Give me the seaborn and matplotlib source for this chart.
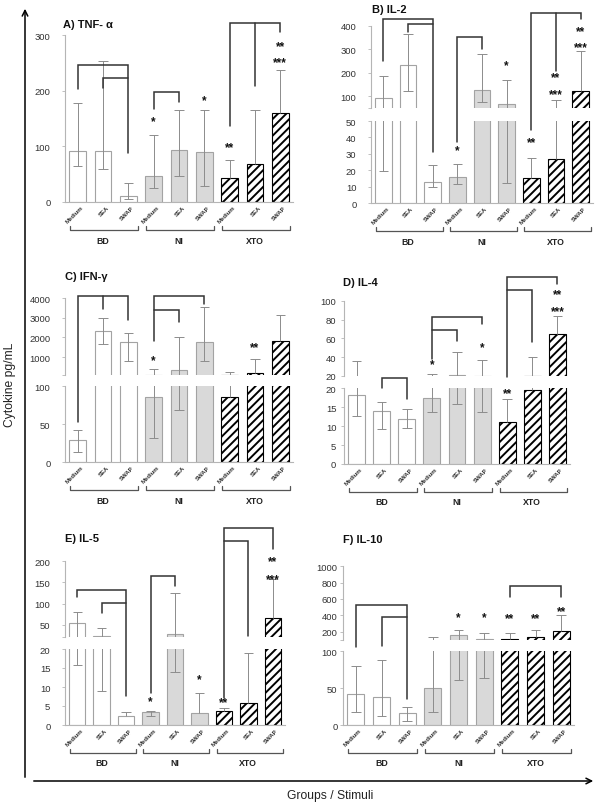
import numpy as np
import pandas as pd
import matplotlib.pyplot as plt
import matplotlib.transforms as mtransforms
from matplotlib.lines import Line2D
from matplotlib.patches import FancyArrowPatch
import seaborn as sns

sns.set_style("white")
plt.rcParams['font.family'] = ['Liberation Sans', 'DejaVu Sans']
plt.rcParams['hatch.linewidth'] = 1.4

W, H = 600, 804

groups = ['BD'] * 3 + ['NI'] * 3 + ['XTO'] * 3
stimuli = ['Medium', 'SEA', 'SWAP'] * 3
group_names = ['BD', 'NI', 'XTO']

# bar height, lower whisker, upper whisker
tnf_val = [92, 91, 10, 46, 94, 89, 43, 69, 160]
tnf_lo = [65, 59, 5, 25, 46, 28, 43, 69, 160]
tnf_hi = [177, 254, 35, 120, 165, 165, 76, 165, 237]

il2_val = [93, 233, 13, 16, 128, 69, 15.2, 26.7, 122]
il2_lo = [19.4, 121, 9.7, 11.5, 75, 12.2, 15.2, 26.7, 122]
il2_hi = [187, 364, 23, 23.7, 280, 170, 27.7, 82, 294]

ifn_val = [29, 2322, 1746, 85.5, 322, 1763, 85.5, 203, 1797]
ifn_lo = [13, 1661, 797, 31.6, 69, 797, 85.5, 203, 1797]
ifn_hi = [42, 2983, 2220, 373, 2050, 3576, 237, 881, 3169]

il4_val = [18.2, 13.9, 12.0, 17.5, 21.4, 20.4, 11.0, 19.5, 64.6]
il4_lo = [12.6, 9.2, 9.6, 13.8, 15.8, 13.8, 11.0, 19.5, 64.6]
il4_hi = [36.3, 16.3, 14.6, 22.4, 45.8, 37.3, 17.3, 39.8, 84]

il5_val = [54.7, 24, 2.3, 3.3, 28, 3.1, 3.6, 5.8, 65]
il5_lo = [15.9, 8.9, 2.3, 2.4, 14, 3.1, 3.6, 5.8, 65]
il5_hi = [79, 43, 3.5, 3.8, 124, 8.4, 4.4, 19, 158]

il10_val = [42, 37.5, 16, 50, 159, 106, 110, 131, 212]
il10_lo = [17, 12, 6, 17, 61, 64, 110, 131, 212]
il10_hi = [80, 88, 25, 131, 220, 180, 180, 224, 404]

# significance brackets: (bar index, value[, 'lo' = use lower segment scale])
tnf_brackets = [[(0, 203), (0, 246), (2, 246), (2, 88)],
                [(1, 204), (1, 223), (2, 223)],
                [(3, 167), (3, 197), (4, 197), (4, 179)],
                [(6, 137), (6, 322), (8, 322), (8, 305)],
                [(7, 322), (7, 208)]]
il2_brackets = [[(0, 251), (0, 428), (2, 428), (2, 31)],
                [(1, 372), (1, 407), (2, 407)],
                [(3, 37), (3, 350), (4, 350), (4, 300)],
                [(6, 44.4), (6, 456), (8, 456), (8, 428)],
                [(7, 456), (7, 209)]]
ifn_brackets = [[(0, 52.6), (0, 4132), (2, 4132), (2, 2912)],
                [(1, 4132), (1, 3456)],
                [(3, 1844), (3, 4132), (5, 4132), (5, 3710)],
                [(3, 3420), (4, 3420), (4, 2779)]]
il4_brackets = [[(1, 20.0, 'lo'), (1, 22.6, 'lo'), (2, 22.6, 'lo'), (2, 17.2)],
                [(3, 38), (3, 83), (5, 83), (5, 75.3)],
                [(3, 68.9), (4, 68.9), (4, 57.5)],
                [(6, 22.9, 'lo'), (6, 125.5), (8, 125.5), (8, 117.8)],
                [(6, 111), (7, 111), (7, 55.8)]]
il5_brackets = [[(0, 116), (0, 132), (2, 132), (2, 7.7)],
                [(1, 77.7), (1, 102), (2, 102)],
                [(3, 8.4), (3, 166), (4, 166), (4, 141)],
                [(6, 7), (6, 278), (8, 278), (8, 229)],
                [(6, 249), (7, 249), (7, 24)]]
il10_brackets = [[(0, 106, 'lo'), (0, 530), (2, 530), (2, 35)],
                 [(1, 107, 'lo'), (1, 375), (2, 375)],
                 [(6, 628), (6, 763), (8, 763), (8, 628)]]

tnf_stars = [(3, 149, '*'), (5, 187, '*'), (6, 103, '**'), (8, 284, '**'), (8, 255, '***')]
il2_stars = [(3, 33.8, '*'), (5, 244, '*'), (6, 38.6, '**'), (7, 190, '**'), (7, 120, '***'),
             (8, 389, '**'), (8, 318, '***')]
ifn_stars = [(3, 980, '*'), (7, 1625, '**')]
il4_stars = [(3, 34.9, '*'), (5, 53, '*'), (6, 19.3, '**'), (8, 109.6, '**'), (8, 92, '***')]
il5_stars = [(3, 7, '*'), (5, 12.8, '*'), (6, 6.7, '**'), (8, 205.6, '**'), (8, 164.6, '***')]
il10_stars = [(4, 408, '*'), (5, 408, '*'), (6, 396, '**'), (7, 396, '**'), (8, 486, '**')]

# layout in pixels: x range, segments (top, bottom, vmin, vmax, ticks, labels), lower first
panels = [
    dict(title='A) TNF- α', title_px=(63, 25), x_px=(65, 293), pad=8,
         val=tnf_val, lo=tnf_lo, hi=tnf_hi, brk=None, br=tnf_brackets, st=tnf_stars,
         segs=[(36, 203, 0, 300, [0, 100, 200, 300], ['0', '100', '200', '300'])]),
    dict(title='B) IL-2', title_px=(372, 10), x_px=(371, 593), pad=8,
         val=il2_val, lo=il2_lo, hi=il2_hi, brk=50, br=il2_brackets, st=il2_stars,
         segs=[(122, 204.3, 0, 50, [0, 10, 20, 30, 40, 50], ['0', '10', '20', '30', '40', '50']),
               (26.7, 109, 50, 400, [50, 100, 200, 300, 400], ['', '100', '200', '300', '400'])]),
    dict(title='C) IFN-γ', title_px=(65, 277), x_px=(65, 293), pad=8,
         val=ifn_val, lo=ifn_lo, hi=ifn_hi, brk=100, br=ifn_brackets, st=ifn_stars,
         segs=[(387.3, 463.3, 0, 100, [0, 50, 100], ['0', '50', '100']),
               (299.3, 375.7, 100, 4000, [100, 1000, 2000, 3000, 4000], ['', '1000', '2000', '3000', '4000'])]),
    dict(title='D) IL-4', title_px=(343, 283), x_px=(344, 570), pad=3,
         val=il4_val, lo=il4_lo, hi=il4_hi, brk=20, br=il4_brackets, st=il4_stars,
         segs=[(389.3, 465, 0, 20, [0, 5, 10, 15, 20], ['0', '5', '10', '15', '20']),
               (301.7, 377, 20, 100, [20, 40, 60, 80, 100], ['20', '40', '60', '80', '100'])]),
    dict(title='E) IL-5', title_px=(65, 539), x_px=(65, 285), pad=8,
         val=il5_val, lo=il5_lo, hi=il5_hi, brk=20, br=il5_brackets, st=il5_stars,
         segs=[(650, 726, 0, 20, [0, 5, 10, 15, 20], ['0', '5', '10', '15', '20']),
               (562.3, 638.3, 20, 200, [20, 50, 100, 150, 200], ['', '50', '100', '150', '200'])]),
    dict(title='F) IL-10', title_px=(343, 540), x_px=(343, 574), pad=1.5,
         val=il10_val, lo=il10_lo, hi=il10_hi, brk=100, br=il10_brackets, st=il10_stars,
         segs=[(652.3, 726, 0, 100, [0, 50, 100], ['0', '50', '100']),
               (567.3, 640.7, 100, 1000, [100, 200, 400, 600, 800, 1000],
                ['', '200', '400', '600', '800', '1000'])]),
]

fill = {'BD': 'white', 'NI': '#d9d9d9', 'XTO': 'white'}
ecol = '#8c8c8c'
axis_col = '#b5b5b5'

fig = plt.figure(figsize=(W / 100, H / 100), dpi=100)


def add_px_axes(x0, x1, y0, y1):
    return fig.add_axes([x0 / W, 1 - y1 / H, (x1 - x0) / W, (y1 - y0) / H])


def draw_bars(ax, val, lo, hi):
    df = pd.DataFrame({'cell': [g + ' ' + s for g, s in zip(groups, stimuli)],
                       'value': val, 'group': groups})
    sns.barplot(data=df, x='cell', y='value', hue='group', palette=fill, dodge=False,
                width=0.67, saturation=1, legend=False, errorbar=None,
                edgecolor='#a3a3a3', linewidth=0.8, ax=ax, zorder=2)
    for p in ax.patches:
        k = int(round(p.get_x() + p.get_width() / 2))
        if groups[k] == 'XTO':
            p.set_hatch('////')
            p.set_edgecolor('black')
    val, lo, hi = map(np.asarray, (val, lo, hi))
    x = np.arange(len(val))
    cw = 0.19
    ax.vlines(x, lo, hi, color=ecol, lw=0.7, zorder=4)
    ax.hlines(hi, x - cw, x + cw, color=ecol, lw=0.7, zorder=4)
    m = lo < val
    ax.hlines(lo[m], x[m] - cw, x[m] + cw, color=ecol, lw=0.7, zorder=4)


def style_axes(ax, vmin, vmax, ticks, labels, bottom, pad):
    ax.set_xlim(-0.5, 8.5)
    ax.set_ylim(vmin, vmax)
    ax.set_xticks([])
    ax.set_xlabel('')
    ax.set_ylabel('')
    ax.set_yticks(ticks)
    ax.set_yticklabels(labels)
    ax.spines['top'].set_visible(False)
    ax.spines['right'].set_visible(False)
    ax.spines['bottom'].set_visible(bottom)
    for s in ['left', 'bottom']:
        ax.spines[s].set_color(axis_col)
        ax.spines[s].set_linewidth(0.8)
    ax.tick_params(axis='y', left=True, direction='out', length=2.5, width=0.6,
                   color=axis_col, labelsize=6.8, labelcolor='#333333', pad=pad)
    ax.patch.set_alpha(0)


def label_groups(ax, y_bot):
    trans = mtransforms.blended_transform_factory(ax.transData, fig.transFigure)
    for i, s in enumerate(stimuli):
        ax.text(i + 0.2, 1 - (y_bot + 4) / H, s, transform=trans, rotation=45,
                ha='right', va='center', rotation_mode='anchor', fontsize=4.3,
                fontweight='bold', color='#333333')
    for g, name in enumerate(group_names):
        a, b = 3 * g - 0.3, 3 * g + 2.4
        yb = 1 - (y_bot + 28) / H
        yt = yb + 4 / H
        ax.plot([a, a, b, b], [yt, yb, yb, yt], transform=trans, color='#555555',
                lw=0.9, clip_on=False)
        ax.text(3 * g + 1, 1 - (y_bot + 38) / H, name, transform=trans, ha='center',
                va='center', fontsize=6.3, fontweight='bold', color='#222222')


def to_fig(axes, brk, i, v, seg=None):
    ax = axes[0]
    if len(axes) > 1 and seg != 'lo' and v > brk:
        ax = axes[1]
    return fig.transFigure.inverted().transform(ax.transData.transform((i, v)))


for pnl in panels:
    x0, x1 = pnl['x_px']
    axes = []
    for k, (yt, yb, vmin, vmax, ticks, labels) in enumerate(pnl['segs']):
        ax = add_px_axes(x0, x1, yt, yb)
        draw_bars(ax, pnl['val'], pnl['lo'], pnl['hi'])
        style_axes(ax, vmin, vmax, ticks, labels, k == 0, pnl['pad'])
        axes.append(ax)
    label_groups(axes[0], pnl['segs'][0][1])

    for br in pnl['br']:
        pts = [to_fig(axes, pnl['brk'], *p) for p in br]
        xs, ys = zip(*pts)
        fig.add_artist(Line2D(xs, ys, transform=fig.transFigure, color='#333333',
                              lw=1.1, solid_joinstyle='miter'))
    for i, v, s in pnl['st']:
        fx, fy = to_fig(axes, pnl['brk'], i, v)
        fig.text(fx, fy - 2.5 / H, s, ha='center', va='center', fontsize=8.5,
                 fontweight='bold', color='#111111')

    tx, ty = pnl['title_px']
    fig.text(tx / W, 1 - ty / H, pnl['title'], ha='left', va='center', fontsize=8,
             fontweight='bold', color='#111111')

# big axis arrows
fig.add_artist(FancyArrowPatch((25 / W, 1 - 781 / H), (25 / W, 1 - 7 / H),
                               transform=fig.transFigure, arrowstyle='->',
                               mutation_scale=10, lw=1.1, color='black'))
fig.add_artist(FancyArrowPatch((31 / W, 1 - 782 / H), (596 / W, 1 - 782 / H),
                               transform=fig.transFigure, arrowstyle='->',
                               mutation_scale=10, lw=1.1, color='black'))
fig.text(10 / W, 1 - 385 / H, 'Cytokine pg/mL', rotation=90, ha='center', va='center',
         fontsize=8.7, color='#222222')
fig.text(330 / W, 1 - 796 / H, 'Groups / Stimuli', ha='center', va='center',
         fontsize=8.7, color='#222222')

fig.savefig('out.png', dpi=100)
